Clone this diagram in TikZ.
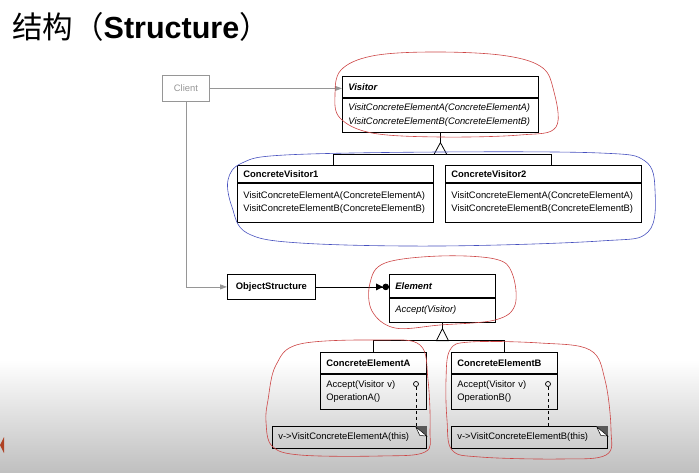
\documentclass[tikz,border=0pt]{standalone}
\usepackage{fontspec}
\setmainfont{Liberation Sans}
\newfontfamily\cjkfont{Noto Sans CJK SC}
\usetikzlibrary{positioning,arrows.meta}

\definecolor{penred}{RGB}{205,70,70}
\definecolor{penblue}{RGB}{70,80,190}
\definecolor{clientgray}{RGB}{150,150,150}
\definecolor{markred}{RGB}{175,65,35}

\begin{document}
\begin{tikzpicture}[x=1pt,y=-1pt,
  every node/.style={font=\fontsize{9.4}{13.5}\selectfont},
  hdr/.style={draw,line width=0.8pt,anchor=north west,inner xsep=6pt,inner ysep=0pt,text width=#1,align=left,minimum height=21pt},
  ital/.style={font=\fontsize{9.4}{13.5}\selectfont\itshape},
  plainbox/.style={draw,line width=0.8pt,anchor=north west,inner sep=0pt,align=center},
  note/.style={draw,line width=0.8pt,anchor=north west,inner xsep=6pt,inner ysep=0pt,text width=#1,align=left,minimum height=22pt},
  link/.style={line width=0.8pt},
  clientline/.style={draw=clientgray,line width=0.8pt,-{Triangle[length=7pt,width=5pt]}},
  scribble/.style={draw=#1,line width=0.6pt}
]
  \useasboundingbox (0,0) rectangle (699,473);
  \shade[top color=white,bottom color=black!25] (0,360) rectangle (699,473);
  \fill[markred] (0,445) -- (4,437) -- (4,453) -- cycle;

  % title
  \node[anchor=west,inner sep=0pt,font=\fontsize{30.5}{35}\selectfont] (title) at (12,27)
    {{\cjkfont 结构（}\textbf{Structure}{\cjkfont ）}};

  % client
  \node[plainbox,draw=clientgray,text=clientgray,minimum width=47pt,minimum height=26pt] (client) at (162,75) {Client};

  % visitors
  \node[hdr=184pt] (vish) at (342,76) {\textbf{\textit{Visitor}}};
  \node[hdr=184pt,ital,minimum height=34pt,below=0pt of vish] (visb)
    {VisitConcreteElementA(ConcreteElementA)\\VisitConcreteElementB(ConcreteElementB)};
  \node[hdr=184pt,minimum height=17pt] (cv1h) at (237,165) {\textbf{ConcreteVisitor1}};
  \node[hdr=184pt,minimum height=39pt,below=0pt of cv1h] (cv1b)
    {VisitConcreteElementA(ConcreteElementA)\\VisitConcreteElementB(ConcreteElementB)};
  \node[hdr=184pt,minimum height=17pt] (cv2h) at (445,165) {\textbf{ConcreteVisitor2}};
  \node[hdr=184pt,minimum height=39pt,below=0pt of cv2h] (cv2b)
    {VisitConcreteElementA(ConcreteElementA)\\VisitConcreteElementB(ConcreteElementB)};

  % elements
  \node[plainbox,minimum width=88pt,minimum height=25pt] (objs) at (227,274) {\textbf{ObjectStructure}};
  \node[hdr=94pt,minimum height=23pt] (elemh) at (389,274) {\textbf{\textit{Element}}};
  \node[hdr=94pt,ital,minimum height=24pt,below=0pt of elemh] (elemb) {Accept(Visitor)};
  \node[hdr=94pt] (ceah) at (320,352) {\textbf{ConcreteElementA}};
  \node[hdr=94pt,minimum height=35pt,below=0pt of ceah] (ceab) {Accept(Visitor v)\\OperationA()};
  \node[hdr=94pt] (cebh) at (451,352) {\textbf{ConcreteElementB}};
  \node[hdr=94pt,minimum height=35pt,below=0pt of cebh] (cebb) {Accept(Visitor v)\\OperationB()};

  % notes
  \node[circle,draw,line width=0.7pt,inner sep=0pt,minimum size=5pt] (opa) at (416,384) {};
  \node[circle,draw,line width=0.7pt,inner sep=0pt,minimum size=5pt] (opb) at (548,384) {};
  \node[note=142pt] (notea) at (272,426) {v->VisitConcreteElementA(this)};
  \node[note=144pt] (noteb) at (451,426) {v->VisitConcreteElementB(this)};
  \fill[black!65] ([xshift=-12pt]notea.north east) -- (notea.north east) -- ++(0,10) -- cycle;
  \filldraw[fill=white,line width=0.5pt] ([xshift=-11pt]notea.north east) ++(0,1) -- ++(4,8.5) -- ++(7,0.5) -- cycle;
  \fill[black!65] ([xshift=-12pt]noteb.north east) -- (noteb.north east) -- ++(0,10) -- cycle;
  \filldraw[fill=white,line width=0.5pt] ([xshift=-11pt]noteb.north east) ++(0,1) -- ++(4,8.5) -- ++(7,0.5) -- cycle;
  \draw[line width=0.7pt,dashed] (opa) -- (opa |- notea.north);
  \draw[line width=0.7pt,dashed] (opb) -- (opb |- noteb.north);

  % connectors
  \draw[clientline] (client) -- (client -| vish.west);
  \draw[clientline] (client.south) |- (objs.west);
  \draw[link,-{Circle[length=6.5pt]}] (objs) -- (objs -| elemh.west);
  \fill ([xshift=-6pt]objs -| elemh.west) -- ++(-7,-3.5) -- ++(0,7) -- cycle;

  \draw[link] (visb.south) -- ++(0,10) coordinate (vtri);
  \draw[link] (vtri) -- ++(-6.5,12) -- ++(13,0) -- cycle;
  \path (vtri) ++(0,12) coordinate (vbar);
  \draw[link] ([xshift=-2pt]cv1h.north) |- (vbar) -| ([xshift=8pt]cv2h.north);

  \draw[link] (elemb.south) -- ++(0,6) coordinate (etri);
  \draw[link] (etri) -- ++(-6,12) -- ++(12,0) -- cycle;
  \path (etri) ++(0,12) coordinate (ebar);
  \draw[link] (ceah.north) |- (ebar) -| (cebh.north);

  % pen marks
  \draw[scribble=penred] plot[smooth cycle,tension=0.6] coordinates
    {(335,95) (341,70) (372,56) (430,52) (500,55) (540,66) (553,88) (556,127) (520,135) (440,137) (372,133) (340,118)};
  \draw[scribble=penblue] plot[smooth cycle,tension=0.6] coordinates
    {(228,180) (242,163) (285,155) (440,152) (600,153) (645,161) (655,190) (648,232) (600,241) (440,246) (300,243) (247,233) (232,207)};
  \draw[scribble=penred] plot[smooth cycle,tension=0.6] coordinates
    {(370,283) (385,263) (440,256) (495,259) (512,273) (515,305) (495,320) (440,325) (395,328) (372,311)};
  \draw[scribble=penred] plot[smooth cycle,tension=0.6] coordinates
    {(268,400) (276,365) (300,344) (380,340) (420,345) (428,380) (430,430) (425,452) (380,456) (300,455) (272,446) (266,422)};
  \draw[scribble=penred] plot[smooth cycle,tension=0.6] coordinates
    {(446,380) (450,350) (470,342) (540,343) (590,350) (605,380) (611,430) (606,455) (560,459) (480,457) (452,450) (447,420)};
\end{tikzpicture}
\end{document}
